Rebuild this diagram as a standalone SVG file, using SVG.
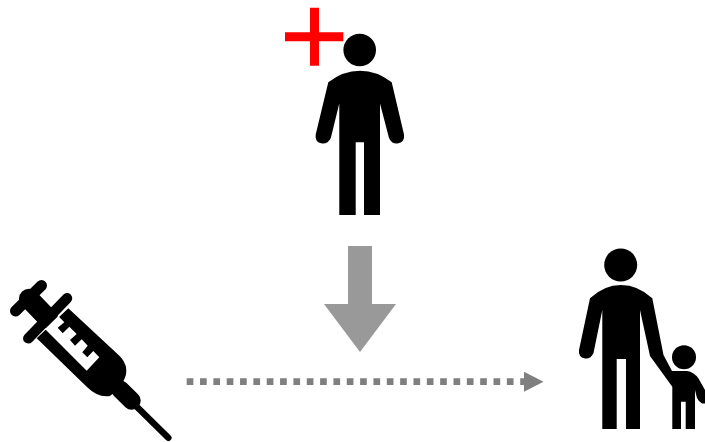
<svg xmlns="http://www.w3.org/2000/svg" width="705" height="442" viewBox="0 0 705 442">
<style>.k{fill:#000}.a{fill:#999}.d{fill:#7f7f7f}.s{fill:none;stroke:#000;stroke-linecap:round}</style>
<rect width="705" height="442" fill="#fff"/>
<g id="parent">
<circle class="k" cx="359.7" cy="50" r="16.3"/>
<path class="k" d="M339.3 215V103.500L330.800 138Q328 144 322 143.500Q314.500 142 315.700 134.500L328.300 82.300Q343 70.700 360 70.700Q377 70.700 391.700 82.300L404 134.500Q405 142 397.500 143.500Q391.500 144 389 138L380 103.500V215H364V142.300H355.700V215Z"/>
<path d="M310 7.700h9v24.600h24.300v9H319v24.400h-9V41.300H285v-9h25Z" fill="#f00"/>
</g>
<g id="family">
<circle class="k" cx="620.700" cy="265" r="16.500"/>
<path class="k" d="M602.300 429V310L593.500 353Q591 359 585 358.500Q578 357 579 350L590 298.300Q604 285 621 285Q638 285 652.300 298.300L663.500 355L672 371H687Q694 372 698.500 378.500L705 390V403.500H702Q699 402 697 398L695 390V429H685.700V401.700H681V429H672.300V386.700L650 356L640 310V429H626V359H616.700V429Z"/>
<circle class="k" cx="684" cy="357.300" r="12"/>
</g>
<g id="syringe">
<path class="k" d="M36.700 338.300L68.300 308.300L116.700 353.300Q126 361 126.300 370Q127 382 110 396Q98 398 86.700 386.700Z"/>
<path class="s" stroke-width="11" d="M15.500 311L41.500 285.500"/>
<path class="s" stroke-width="10.500" d="M28.300 338.300L67 298.300"/>
<path class="s" stroke-width="20" stroke-linecap="butt" d="M29 298.800L48 318.500"/>
<path class="s" stroke-width="18" d="M120 389.300L131.700 400.700"/>
<path class="s" stroke-width="6.500" d="M133 403L168.300 437.700"/>
<path fill="#fff" d="M58.300 316L64.300 322.300L57.700 327.700L62.700 333.300L69.300 326.700L76.700 334L70 340L75 345.700L81.700 339.300L87.700 345.700L82.300 352.300L87.300 357.300L93.300 351L99.300 357.300L86.700 370.700L45 329Z"/>
</g>
<g id="connectors">
<path class="a" d="M348 246h24v58h24l-36 48-36-48h24Z"/>
<path d="M186.700 381.700H524" fill="none" stroke="#7f7f7f" stroke-width="6.700" stroke-dasharray="6.670 6.670"/>
<path class="d" d="M524 371.700L543.500 381.700L524 391.700Z"/>
</g>
</svg>
